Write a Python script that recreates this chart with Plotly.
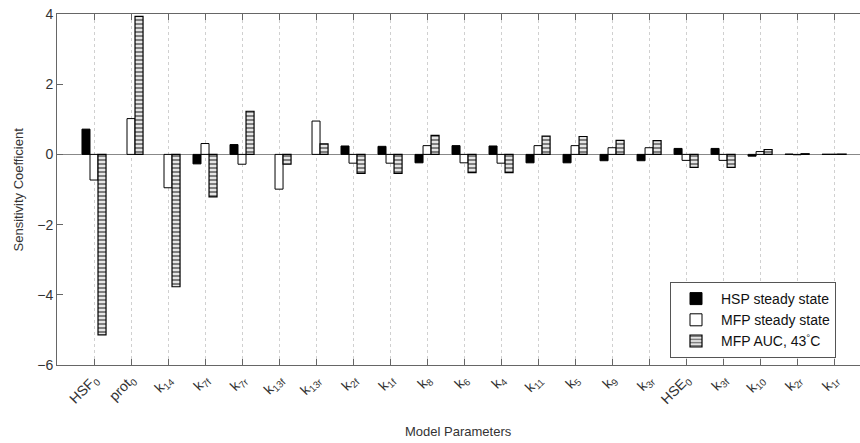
import plotly.graph_objects as go

categories = ["HSF<sub>0</sub>", "prot<sub>0</sub>", "k<sub>14</sub>", "k<sub>7f</sub>", "k<sub>7r</sub>",
              "k<sub>13f</sub>", "k<sub>13r</sub>", "k<sub>2f</sub>", "k<sub>1f</sub>", "k<sub>8</sub>",
              "k<sub>6</sub>", "k<sub>4</sub>", "k<sub>11</sub>", "k<sub>5</sub>", "k<sub>9</sub>",
              "k<sub>3r</sub>", "HSE<sub>0</sub>", "k<sub>3f</sub>", "k<sub>10</sub>", "k<sub>2r</sub>",
              "k<sub>1r</sub>"]

hsp_ss = [0.72, None, None, -0.27, 0.28, None, None, 0.24, 0.23, -0.24,
          0.25, 0.24, -0.24, -0.24, -0.18, -0.18, 0.17, 0.17, -0.05, 0.01, 0.005]
mfp_ss = [-0.73, 1.02, -0.95, 0.31, -0.28, -0.99, 0.95, -0.25, -0.25, 0.25,
          -0.24, -0.25, 0.25, 0.25, 0.19, 0.19, -0.17, -0.17, 0.08, -0.01, 0.005]
mfp_auc = [-5.14, 3.93, -3.77, -1.21, 1.23, -0.28, 0.3, -0.54, -0.54, 0.54,
           -0.52, -0.52, 0.52, 0.51, 0.4, 0.39, -0.37, -0.37, 0.14, 0.02, 0.01]

xpos = list(range(1, len(categories) + 1))

fig = go.Figure()
fig.add_trace(go.Bar(x=xpos, y=hsp_ss, name="HSP steady state",
                     marker=dict(color="black", line=dict(color="black", width=1))))
fig.add_trace(go.Bar(x=xpos, y=mfp_ss, name="MFP steady state",
                     marker=dict(color="white", line=dict(color="black", width=1))))
fig.add_trace(go.Bar(x=xpos, y=mfp_auc, name="MFP AUC, 43<sup>°</sup>C",
                     marker=dict(color="white", line=dict(color="black", width=1.2),
                                 pattern=dict(shape="-", fgcolor="black", bgcolor="white",
                                              size=4, solidity=0.6))))

font_family = "Liberation Sans, Arial, sans-serif"
L, R, T, B = 57, 0, 14, 78
plot_w = 860 - L - R
fig.update_layout(
    width=860, height=443,
    margin=dict(l=L, r=R, t=T, b=B, autoexpand=False),
    plot_bgcolor="white", paper_bgcolor="white",
    barmode="group", bargap=0.35, bargroupgap=0,
    font=dict(family=font_family, size=12, color="#222"),
    showlegend=True,
    legend=dict(x=(670 - L) / plot_w, y=(365 - 358) / 351, xanchor="left", yanchor="bottom",
                bgcolor="white", bordercolor="#555", borderwidth=1,
                font=dict(size=14, color="#111"), tracegroupgap=0,
                itemwidth=40),
)
fig.update_xaxes(
    range=[0, 21.7], tickmode="array", tickvals=xpos, ticktext=categories,
    tickangle=-45, ticks="inside", ticklen=6, tickcolor="#666",
    showline=True, linecolor="#666", linewidth=1, mirror="ticks",
    showgrid=True, gridcolor="#d0d0d0", griddash="dot", gridwidth=1,
    tickfont=dict(size=14, color="#333"), zeroline=False, automargin=False,
)
fig.update_yaxes(
    range=[-6, 4], tickvals=[-6, -4, -2, 0, 2, 4], ticktext=["−6", "−4", "−2", "0", "2", "4"],
    ticks="inside", ticklen=6, tickcolor="#666",
    showline=True, linecolor="#666", linewidth=1,
    showgrid=False, zeroline=True, zerolinecolor="#888", zerolinewidth=1,
    tickfont=dict(size=14, color="#333"), automargin=False,
)
fig.add_annotation(text="Sensitivity Coefficient", xref="paper", yref="paper",
                   x=-(57 - 18) / plot_w, y=0.5, xanchor="center", yanchor="middle",
                   textangle=-90, showarrow=False, font=dict(size=13, color="#333"))
fig.add_annotation(text="Model Parameters", xref="paper", yref="paper",
                   x=0.5, y=-(431 - 365) / 351, xanchor="center", yanchor="middle",
                   showarrow=False, font=dict(size=13, color="#333"))

fig.write_html("out.html", config={"displayModeBar": False},
               post_script="document.body.style.margin='0';document.body.style.overflow='hidden';")
